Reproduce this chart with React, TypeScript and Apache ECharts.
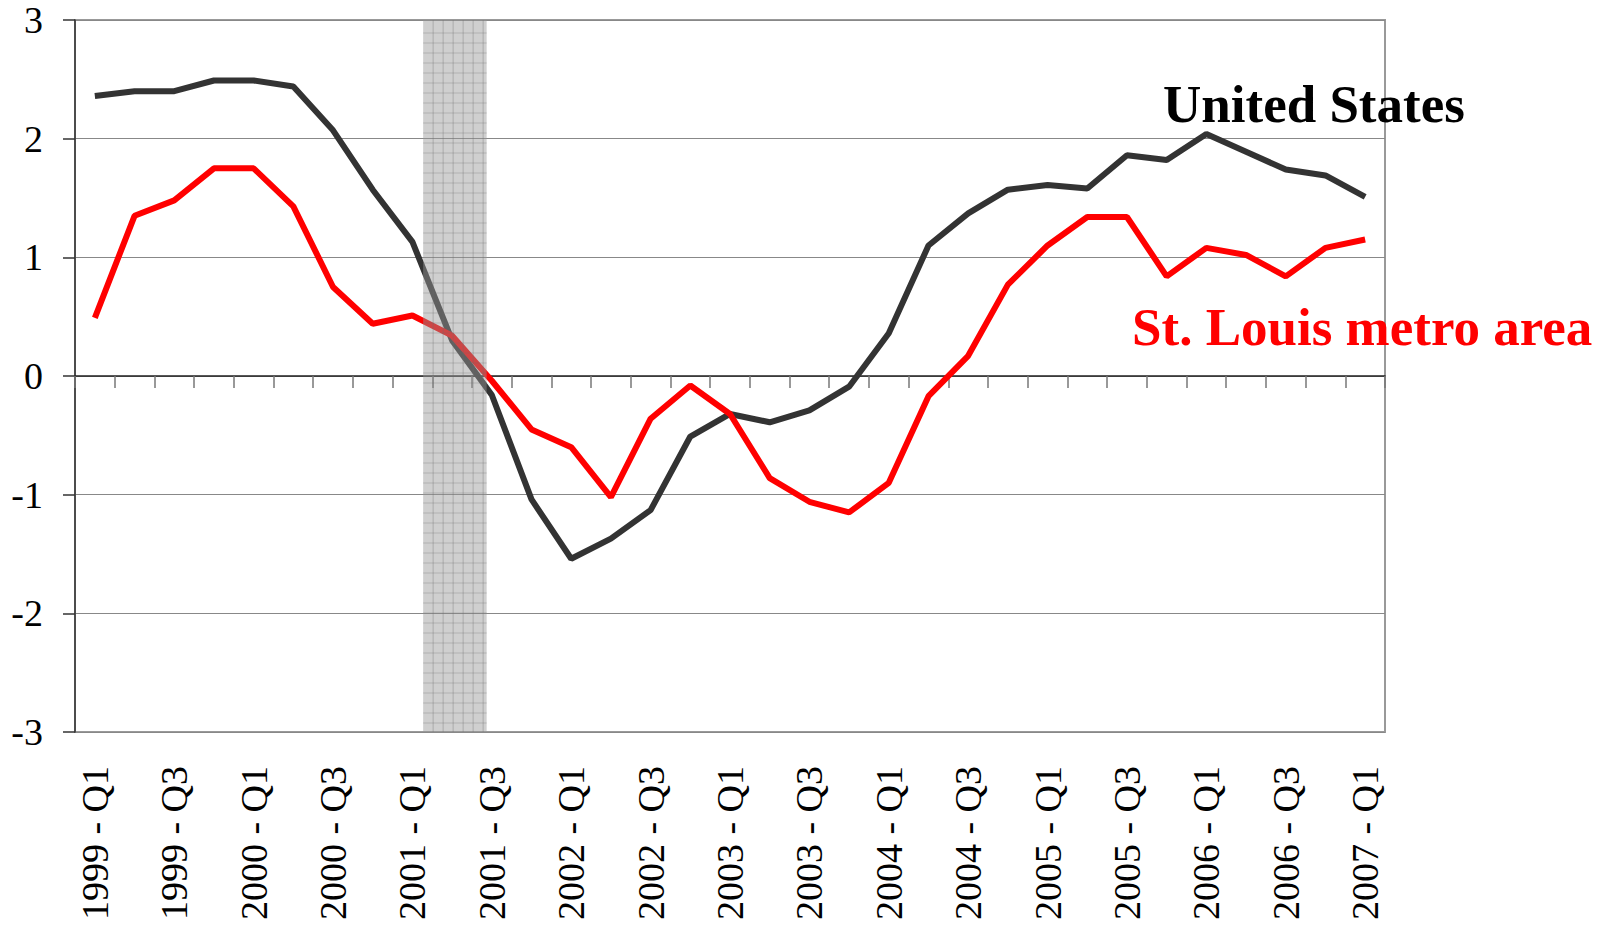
import React, { useEffect, useRef } from "react";
import * as echarts from "echarts";

const categories = [
  "1999 - Q1", "1999 - Q2", "1999 - Q3", "1999 - Q4",
  "2000 - Q1", "2000 - Q2", "2000 - Q3", "2000 - Q4",
  "2001 - Q1", "2001 - Q2", "2001 - Q3", "2001 - Q4",
  "2002 - Q1", "2002 - Q2", "2002 - Q3", "2002 - Q4",
  "2003 - Q1", "2003 - Q2", "2003 - Q3", "2003 - Q4",
  "2004 - Q1", "2004 - Q2", "2004 - Q3", "2004 - Q4",
  "2005 - Q1", "2005 - Q2", "2005 - Q3", "2005 - Q4",
  "2006 - Q1", "2006 - Q2", "2006 - Q3", "2006 - Q4",
  "2007 - Q1",
];

const unitedStates = [
  2.36, 2.4, 2.4, 2.49, 2.49, 2.44, 2.07, 1.57, 1.13, 0.3, -0.16, -1.04,
  -1.54, -1.37, -1.13, -0.51, -0.32, -0.39, -0.29, -0.09, 0.36, 1.1, 1.37,
  1.57, 1.61, 1.58, 1.86, 1.82, 2.04, 1.89, 1.74, 1.69, 1.51,
];

const stLouis = [
  0.49, 1.35, 1.48, 1.75, 1.75, 1.43, 0.75, 0.44, 0.51, 0.34, -0.04, -0.45,
  -0.6, -1.02, -0.36, -0.08, -0.32, -0.86, -1.06, -1.15, -0.9, -0.17, 0.17,
  0.77, 1.1, 1.34, 1.34, 0.84, 1.08, 1.02, 0.84, 1.08, 1.15,
];

// recession band, in quarter units counted from the start of 1999 - Q1
const recession = [8.77, 10.37];

const yTicks = { min: -3, max: 3, interval: 1 };

const SERIF = "Liberation Serif";

const labelRich = {
  s: { fontFamily: SERIF, fontSize: 38, color: "#000000" },
};

export default function App() {
  const ref = useRef<HTMLDivElement>(null);

  useEffect(() => {
    document.body.style.margin = "0";
    if (!ref.current) return;
    const chart = echarts.init(ref.current, undefined, { renderer: "svg" });

    const option: any = {
      animation: false,
      backgroundColor: "#ffffff",
      textStyle: { fontFamily: SERIF },
      grid: {
        left: 75,
        top: 20,
        width: 1310,
        height: 712,
        show: true,
        borderColor: "#999999",
        borderWidth: 2,
        backgroundColor: "transparent",
      },
      xAxis: [
        {
          type: "category",
          data: categories,
          position: "bottom",
          boundaryGap: true,
          axisLine: { show: false, onZero: false },
          axisTick: { show: false },
          splitLine: { show: false },
          axisLabel: {
            interval: 1,
            rotate: 90,
            margin: 34,
            fontFamily: SERIF,
            fontSize: 38,
            color: "#000000",
            formatter: (v: string) => "{s|" + v + "}",
            rich: labelRich,
          },
        },
        {
          type: "category",
          data: categories,
          position: "top",
          boundaryGap: true,
          axisLine: {
            show: true,
            onZero: true,
            onZeroAxisIndex: 0,
            lineStyle: { color: "#222222", width: 1.5 },
          },
          axisTick: {
            show: true,
            interval: 0,
            inside: true,
            length: 12,
            lineStyle: { color: "#777777", width: 1.5 },
          },
          axisLabel: { show: false },
          splitLine: { show: false },
        },
        {
          type: "value",
          min: 0,
          max: categories.length,
          show: false,
          axisLine: { onZero: false },
          splitLine: { show: false },
        },
      ],
      yAxis: {
        type: "value",
        min: yTicks.min,
        max: yTicks.max,
        interval: yTicks.interval,
        axisLine: {
          show: true,
          onZero: false,
          lineStyle: { color: "#333333", width: 1.5 },
        },
        axisTick: {
          show: true,
          length: 12,
          lineStyle: { color: "#333333", width: 1.5 },
        },
        axisLabel: {
          margin: 32,
          fontFamily: SERIF,
          fontSize: 38,
          color: "#000000",
          formatter: (v: number) => "{s|" + v + "}",
          rich: labelRich,
        },
        splitLine: { show: true, lineStyle: { color: "#888888", width: 1 } },
      },
      series: [
        {
          name: "United States",
          type: "line",
          xAxisIndex: 0,
          yAxisIndex: 0,
          data: unitedStates,
          showSymbol: false,
          symbol: "none",
          z: 3,
          lineStyle: { color: "#333333", width: 6 },
          itemStyle: { color: "#333333" },
        },
        {
          name: "St. Louis metro area",
          type: "line",
          xAxisIndex: 0,
          yAxisIndex: 0,
          data: stLouis,
          showSymbol: false,
          symbol: "none",
          z: 4,
          lineStyle: { color: "#ff0000", width: 6 },
          itemStyle: { color: "#ff0000" },
        },
        {
          name: "Recession",
          type: "custom",
          xAxisIndex: 2,
          z: 10,
          silent: true,
          data: [[recession[0], recession[1]]],
          renderItem: (params: any, api: any) => {
            const p0 = api.coord([api.value(0), yTicks.max]);
            const p1 = api.coord([api.value(1), yTicks.min]);
            const x0 = p0[0];
            const y0 = p0[1];
            const x1 = p1[0];
            const y1 = p1[1];
            const children: any[] = [
              {
                type: "rect",
                shape: { x: x0, y: y0, width: x1 - x0, height: y1 - y0 },
                style: { fill: "rgba(150,150,150,0.46)" },
              },
            ];
            const step = 10;
            for (let x = x0 + step; x < x1 - 1; x += step) {
              children.push({
                type: "line",
                shape: { x1: x, y1: y0, x2: x, y2: y1 },
                style: { stroke: "rgba(110,110,110,0.3)", lineWidth: 1.2 },
              });
            }
            for (let y = y0 + 13; y < y1 - 1; y += step) {
              children.push({
                type: "line",
                shape: { x1: x0, y1: y, x2: x1, y2: y },
                style: { stroke: "rgba(110,110,110,0.3)", lineWidth: 1.2 },
              });
            }
            return { type: "group", children };
          },
        },
      ],
      graphic: [
        {
          type: "text",
          left: 1163,
          top: 77,
          z: 20,
          style: {
            text: "United States",
            fontFamily: SERIF,
            fontWeight: "bold",
            fontSize: 53,
            fill: "#000000",
          },
        },
        {
          type: "text",
          left: 1132,
          top: 300,
          z: 20,
          style: {
            text: "St. Louis metro area",
            fontFamily: SERIF,
            fontWeight: "bold",
            fontSize: 53,
            fill: "#ff0000",
          },
        },
      ],
    };

    chart.setOption(option);
    return () => {
      chart.dispose();
    };
  }, []);

  return <div ref={ref} style={{ width: 1618, height: 928 }} />;
}
